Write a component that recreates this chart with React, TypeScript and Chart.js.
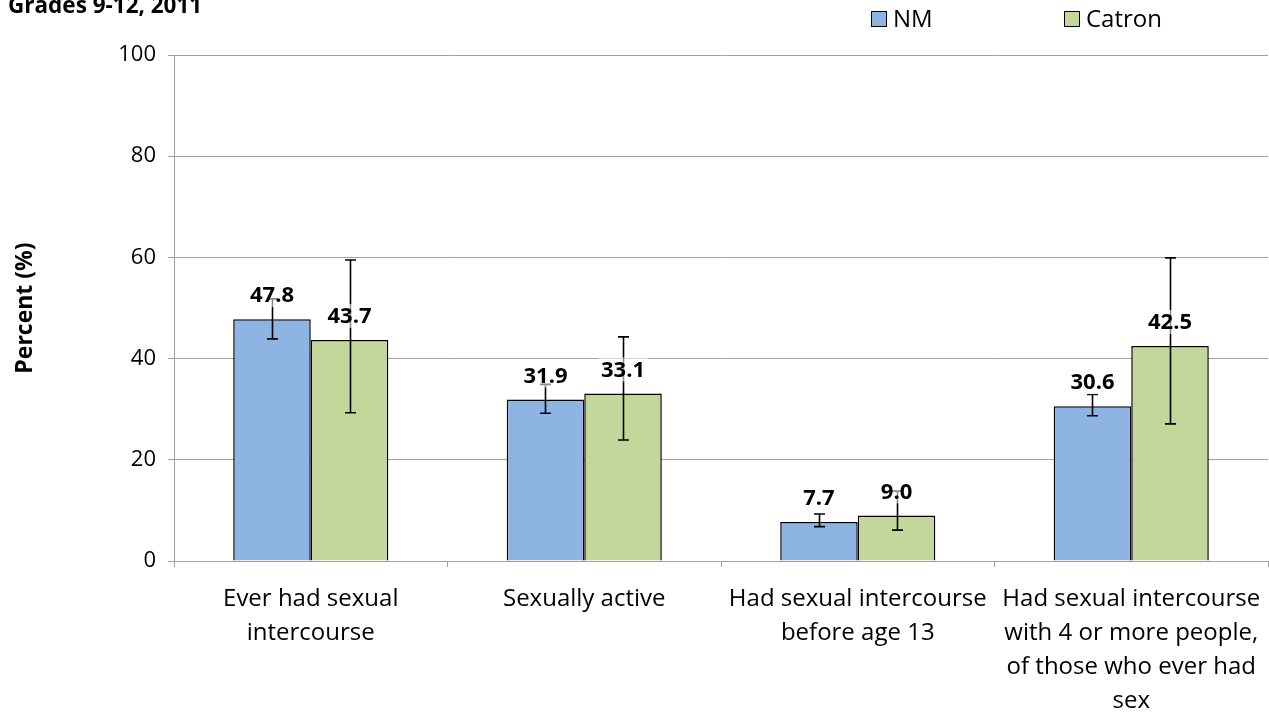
import React, { useEffect, useRef } from "react";
import { Chart, registerables } from "chart.js";

Chart.register(...registerables);

const categories: string[][] = [
  ["Ever had sexual", "intercourse"],
  ["Sexually active"],
  ["Had sexual intercourse", "before age 13"],
  ["Had sexual intercourse", "with 4 or more people,", "of those who ever had", "sex"],
];
const seriesNames = ["NM", "Catron"];
const nmValues = [47.8, 31.9, 7.7, 30.6];
const catronValues = [43.7, 33.1, 9.0, 42.5];
const nmLower = [43.9, 29.2, 6.8, 28.7];
const nmUpper = [51.8, 34.9, 9.3, 32.9];
const catronLower = [29.3, 23.9, 6.1, 27.1];
const catronUpper = [59.5, 44.3, 13.8, 59.9];
const yMin = 0;
const yMax = 100;
const yStep = 20;
const titleText = "Grades 9-12, 2011";
const yAxisTitle = "Percent (%)";

const FONT = "'Open Sans'";
const COLORS = ["#8EB4E3", "#C4D79B"];
const GRID = "#A0A0A0";

const errorBarsPlugin = {
  id: "errorBars",
  afterDatasetsDraw(chart: any) {
    const ctx = chart.ctx;
    const yScale = chart.scales.y;
    const lows = [nmLower, catronLower];
    const highs = [nmUpper, catronUpper];
    ctx.save();
    ctx.strokeStyle = "#000";
    ctx.lineWidth = 1.6;
    chart.data.datasets.forEach((ds: any, di: number) => {
      const meta = chart.getDatasetMeta(di);
      meta.data.forEach((bar: any, i: number) => {
        const x = Math.round(bar.x) + 0.5;
        const yl = yScale.getPixelForValue(lows[di][i]);
        const yh = yScale.getPixelForValue(highs[di][i]);
        const cap = 5.5;
        ctx.beginPath();
        ctx.moveTo(x, yl);
        ctx.lineTo(x, yh);
        ctx.moveTo(x - cap, yl);
        ctx.lineTo(x + cap, yl);
        ctx.moveTo(x - cap, yh);
        ctx.lineTo(x + cap, yh);
        ctx.stroke();
      });
    });
    ctx.restore();
  },
};

const labelsPlugin = {
  id: "valueLabels",
  afterDatasetsDraw(chart: any) {
    const ctx = chart.ctx;
    ctx.save();
    ctx.font = `bold 22px ${FONT}`;
    ctx.textAlign = "center";
    ctx.textBaseline = "middle";
    chart.data.datasets.forEach((ds: any, di: number) => {
      const meta = chart.getDatasetMeta(di);
      meta.data.forEach((bar: any, i: number) => {
        const txt = Number(ds.data[i]).toFixed(1);
        const w = ctx.measureText(txt).width;
        const cx = bar.x;
        const cy = bar.y - 24;
        ctx.fillStyle = "rgba(255,255,255,0.55)";
        ctx.fillRect(cx - w / 2 - 3, cy - 12, w + 6, 24);
        ctx.fillStyle = "#000";
        ctx.fillText(txt, cx, cy + 1);
      });
    });
    ctx.restore();
  },
};

const decorPlugin = {
  id: "decor",
  afterDraw(chart: any) {
    const ctx = chart.ctx;
    ctx.save();
    // title (partially cut at the top like the reference)
    ctx.font = `bold 22.5px ${FONT}`;
    ctx.fillStyle = "#000";
    ctx.textAlign = "left";
    ctx.textBaseline = "alphabetic";
    ctx.fillText(titleText, 8, 13);
    // legend
    const legendX = [871, 1064];
    ctx.font = `24px ${FONT}`;
    ctx.textBaseline = "middle";
    chart.data.datasets.forEach((ds: any, di: number) => {
      const x = legendX[di];
      ctx.fillStyle = ds.backgroundColor;
      ctx.fillRect(x, 11, 16, 16);
      ctx.strokeStyle = "#000";
      ctx.lineWidth = 1;
      ctx.strokeRect(x + 0.5, 11.5, 15, 15);
      ctx.fillStyle = "#000";
      ctx.fillText(ds.label, x + 22, 20);
    });
    ctx.restore();
  },
};

export default function App() {
  const canvasRef = useRef<HTMLCanvasElement | null>(null);

  useEffect(() => {
    if (!canvasRef.current) return;
    const chart = new Chart(canvasRef.current, {
      type: "bar",
      data: {
        labels: categories,
        datasets: [
          {
            label: seriesNames[0],
            data: nmValues,
            backgroundColor: COLORS[0],
            borderColor: "#000",
            borderWidth: 1.5,
          },
          {
            label: seriesNames[1],
            data: catronValues,
            backgroundColor: COLORS[1],
            borderColor: "#000",
            borderWidth: 1.5,
          },
        ],
      },
      options: {
        animation: false,
        responsive: true,
        maintainAspectRatio: false,
        layout: { padding: { top: 55, right: 1, bottom: 0, left: 0 } },
        datasets: {
          bar: { categoryPercentage: 0.567, barPercentage: 1 },
        },
        plugins: {
          legend: { display: false },
          title: { display: false },
          tooltip: { enabled: false },
        },
        scales: {
          x: {
            afterFit: (scale: any) => {
              scale.height = 155;
              scale.paddingLeft = 0;
              scale.paddingRight = 0;
            },
            grid: {
              display: true,
              drawOnChartArea: false,
              drawTicks: true,
              tickLength: 6,
              offset: true,
              color: GRID,
            },
            border: { display: true, color: GRID, width: 1 },
            ticks: {
              color: "#000",
              font: { family: FONT, size: 24, lineHeight: 1.42 },
              padding: 15,
              maxRotation: 0,
              minRotation: 0,
              autoSkip: false,
            },
          },
          y: {
            min: yMin,
            max: yMax,
            afterFit: (scale: any) => {
              scale.width = 174;
            },
            grid: {
              color: GRID,
              lineWidth: 1,
              drawTicks: true,
              tickLength: 6,
            },
            border: { display: true, color: GRID, width: 1 },
            ticks: {
              stepSize: yStep,
              color: "#000",
              font: { family: FONT, size: 22 },
              padding: 12,
            },
            title: {
              display: true,
              text: yAxisTitle,
              color: "#000",
              font: { family: FONT, size: 23, weight: "bold" },
              padding: { top: 12, bottom: 0 },
            },
          },
        },
      },
      plugins: [errorBarsPlugin, labelsPlugin, decorPlugin],
    });
    return () => chart.destroy();
  }, []);

  return (
    <div style={{ position: "fixed", left: 0, top: 0, width: 1269, height: 716, background: "#fff" }}>
      <canvas ref={canvasRef} />
    </div>
  );
}
